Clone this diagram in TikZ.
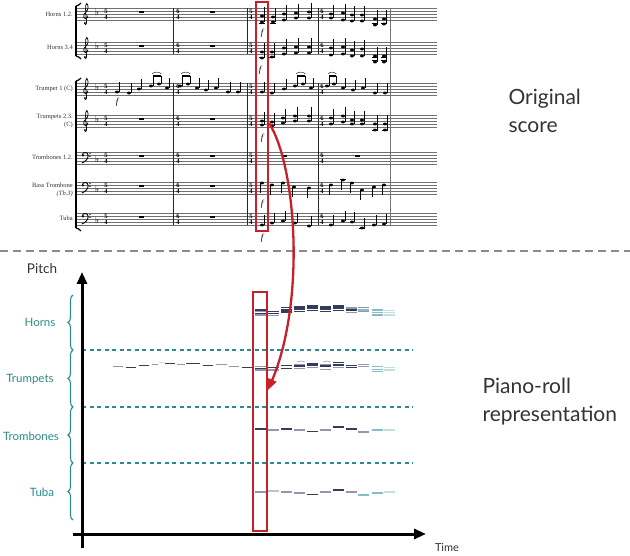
\documentclass[tikz,border=0pt]{standalone}
\usepackage{fontspec}
\setmainfont{Liberation Serif}
\newfontfamily\labfont{Lato}
\newfontfamily\musfont{DejaVu Sans}
\usetikzlibrary{decorations.pathreplacing,arrows.meta}
\definecolor{rred}{HTML}{C8202A}
\definecolor{tealc}{HTML}{2A8A8C}
\definecolor{nv}{HTML}{363B5A}
\definecolor{gr}{HTML}{9498AC}
\definecolor{lt}{HTML}{86BCC6}
\definecolor{vlt}{HTML}{C4DFE2}
\definecolor{stf}{HTML}{707070}
\definecolor{txt}{HTML}{333333}
\tikzset{
  staffline/.style={stf, line width=0.7},
  barl/.style={black!85, line width=0.8},
  stemc/.style={black, line width=0.6},
  clefc/.style={black, line width=0.75},
  pr/.style={line width=1.1},
  ts/.style={inner sep=0, font=\fontsize{6.5}{6.5}\selectfont\bfseries},
  slabel/.style={inner sep=0, anchor=east, align=right, text=black!80, font=\fontsize{6.5}{7.4}\selectfont},
  dyn/.style={inner sep=0, font=\fontsize{9}{9}\selectfont\itshape},
  redbox/.style={draw=rred, line width=2},
  grp/.style={text=tealc, font=\labfont\fontsize{11.5}{12}\selectfont},
  bracec/.style={draw=tealc, line width=1.1, decorate, decoration={brace, amplitude=5pt}},
  sepline/.style={draw=black!45, line width=2.2, dash pattern=on 8pt off 5pt},
  tdash/.style={draw=tealc, line width=1.2, dash pattern=on 4pt off 3.5pt},
  axis/.style={line width=3, -{Triangle[length=12pt,width=10pt]}},
  big/.style={text=txt, align=left, font=\labfont\fontsize{21}{28}\selectfont},
}
\newcommand\Hd[2]{\fill (#1,#2) ellipse [x radius=2, y radius=1.4];}
\newcommand\Up[2]{\Hd{#1}{#2}\draw[stemc] (#1+1.8,#2) -- (#1+1.8,#2-10);}
\newcommand\Dn[2]{\Hd{#1}{#2}\draw[stemc] (#1-1.8,#2) -- (#1-1.8,#2+10);}
\newcommand\ChU[3]{\Hd{#1}{#2}\Hd{#1}{#3}\draw[stemc] (#1+1.8,#2) -- (#1+1.8,#3-9);}
\newcommand\Bm[4]{\Hd{#1}{#2}\Hd{#3}{#4}\draw[stemc] (#1+1.8,#2) -- (#1+1.8,#2-10);\draw[stemc] (#3+1.8,#4) -- (#3+1.8,#2-10);\draw[line width=1.3] (#1+1.8,#2-10) -- (#3+1.8,#2-10);\draw[line width=0.4] (#1+1,#2-12) .. controls (#1+3,#2-14.5) and (#3,#2-14.5) .. (#3+2.5,#2-12);}
\newcommand\Rst[2]{\fill (#1,#2+3) rectangle (#1+5,#2+5);}
\newcommand\Staff[1]{\foreach \k in {0,...,4} \draw[staffline] (77,#1+3*\k) -- (437,#1+3*\k);}
\newcommand\Ch[3]{\foreach \yy in {#3} \draw[#2, pr] (#1,\yy) -- ++(11,0);}
\newcommand\Gclef[2]{%
  \draw[clefc] (#1+0.8,#2+8) .. controls (#1+2.6,#2+7) and (#1+2,#2+10.8) .. (#1,#2+10.8)
     .. controls (#1-2.8,#2+10.8) and (#1-3.2,#2+6) .. (#1,#2+4)
     .. controls (#1+2.6,#2+2) and (#1+2.6,#2-3) .. (#1+0.8,#2-4.5)
     .. controls (#1-1,#2-3) and (#1-0.6,#2+2) .. (#1+0.6,#2+14)
     .. controls (#1+0.9,#2+17) and (#1-2,#2+17.2) .. (#1-1.6,#2+15.2);
  \fill (#1-1.2,#2+15) circle [radius=1];}
\newcommand\Fclef[2]{%
  \fill (#1-2,#2+3.4) circle [radius=1.2];
  \draw[line width=0.9] (#1-2.8,#2+3) .. controls (#1-2.4,#2-0.2) and (#1+3.2,#2-0.6) .. (#1+3.2,#2+3.6)
     .. controls (#1+3.2,#2+7.5) and (#1-0.5,#2+10) .. (#1-3.2,#2+11);
  \fill (#1+5,#2+1.6) circle [radius=0.7];
  \fill (#1+5,#2+4.4) circle [radius=0.7];}
\begin{document}
\begin{tikzpicture}[x=1pt, y=-1pt]
\useasboundingbox (0,0) rectangle (630,556);
% ---------------- score ----------------
\foreach \t in {8,42,83,115,152,182,213} {\Staff{\t}}
% system brackets
\draw[line width=1.6] (76,6) -- (76,56);
\draw[line width=1.2] (76,6) .. controls (78,5.5) and (80,4.5) .. (81,3);
\draw[line width=1.2] (76,56) .. controls (78,56.5) and (80,57.5) .. (81,59);
\draw[line width=1.6] (76,81) -- (76,228);
\draw[line width=1.2] (76,81) .. controls (78,80.5) and (80,79.5) .. (81,78);
\draw[line width=1.2] (76,228) .. controls (78,228.5) and (80,229.5) .. (81,231);
% barlines
\foreach \bx in {173,247,318} {\draw[barl] (\bx,8) -- (\bx,54); \draw[barl] (\bx,83) -- (\bx,225);}
\draw[barl, black!55] (390,8) -- (390,225);
% clefs and key signatures
\foreach \t in {8,42,83,115} {
  \Gclef{86}{\t}
  \node[inner sep=0] at (97,\t+4) {\musfont\fontsize{9}{9}\selectfont ♭};
}
\foreach \t in {152,182,213} {
  \Fclef{85}{\t}
  \node[inner sep=0] at (97,\t+7) {\musfont\fontsize{9}{9}\selectfont ♭};
}
% time signatures
\foreach \t in {8,42,83,115,152,182,213} {
  \node[ts] at (106,\t+3) {5}; \node[ts] at (106,\t+9) {4};
  \node[ts] at (178,\t+3) {6}; \node[ts] at (178,\t+9) {4};
  \node[ts] at (251,\t+3) {5}; \node[ts] at (251,\t+9) {4};
  \node[ts] at (322,\t+3) {6}; \node[ts] at (322,\t+9) {4};
}
% rests
\foreach \t in {8,42,115,152,182,213} {\Rst{139}{\t}\Rst{210}{\t}}
\Rst{282}{152}\Rst{355}{152}
% labels
\node[slabel] (l1) at (73,14) {Horns 1.2.};
\node[slabel] (l2) at (73,47) {Horns 3.4};
\node[slabel] (l3) at (73,89) {Trumpet 1 (C)};
\node[slabel] (l4) at (73,121) {Trumpets 2.3.\\(C)};
\node[slabel] (l5) at (73,157) {Trombones 1.2.};
\node[slabel] (l6) at (73,190) {Bass Trombone\\\textit{(Tb.3)}};
\node[slabel] (l7) at (73,218) {Tuba};
% horns 1.2
\ChU{262}{22}{16}\ChU{273}{22}{17}\ChU{284}{20}{14}\ChU{296}{18}{13}\ChU{309}{18}{12}
\ChU{331}{18}{14}\ChU{343}{20}{13}\ChU{352}{21}{15}\ChU{362}{21}{15}\ChU{375}{25}{19}\ChU{384}{24}{19}
\foreach \lx in {262,273,375,384} {\draw[line width=0.4] (\lx-3,23) -- (\lx+3,23);}
% horns 3.4
\ChU{262}{58}{52}\ChU{272}{57}{52}\ChU{284}{54}{48}\ChU{296}{53}{47}\ChU{309}{53}{47}
\ChU{331}{55}{48}\ChU{343}{54}{47}\ChU{352}{56}{50}\ChU{362}{56}{49}\ChU{375}{62}{56}\ChU{384}{62}{56}
\foreach \lx in {262,272,375,384} {\draw[line width=0.4] (\lx-3,57) -- (\lx+3,57);}
\foreach \lx in {375,384} {\draw[line width=0.4] (\lx-3,60) -- (\lx+3,60);}
% trumpet 1
\Up{117}{92}\Up{129}{93}\Up{139}{89}\Bm{151}{86}{159}{84}\Up{167}{88}
\Bm{180}{86}{188}{84}\Up{197}{88}\Up{206}{90}\Up{216}{88}\Up{228}{92}\Up{238}{92}
\Up{262}{92}\Up{272}{93}\Up{284}{89}\Bm{295}{86}{303}{84}\Up{311}{88}
\Bm{327}{86}{334}{84}\Up{343}{88}\Up{353}{90}\Up{363}{88}\Up{375}{93}\Up{385}{93}
% trumpets 2.3
\ChU{262}{125}{121}\ChU{272}{126}{122}\ChU{283}{123}{118}\ChU{295}{121}{116}\ChU{309}{121}{116}
\ChU{331}{124}{118}\ChU{343}{122}{116}\ChU{352}{124}{120}\ChU{362}{124}{120}\ChU{375}{130}{124}\ChU{385}{130}{124}
\foreach \lx in {375,385} {\draw[line width=0.4] (\lx-3,130) -- (\lx+3,130);}
% bass trombone
\Dn{262}{183}\Dn{272}{185}\Dn{283}{183}\Dn{294}{187}\Dn{309}{188}
\Dn{331}{185}\Dn{343}{180}\Dn{352}{183}\Dn{362}{190}\Dn{374}{187}\Dn{384}{185}
\foreach \lx in {343} {\draw[line width=0.4] (\lx-3,179) -- (\lx+3,179);}
% tuba
\Up{262}{225}\Up{272}{223}\Up{283}{221}\Up{295}{223}\Up{309}{226}
\Up{331}{225}\Up{343}{221}\Up{352}{222}\Up{362}{228}\Up{374}{225}\Up{384}{224}
\foreach \lx in {362} {\draw[line width=0.4] (\lx-3,228) -- (\lx+3,228);}
% dynamics
\node[dyn] (d1) at (262,33) {f};
\node[dyn] (d2) at (260,70) {f};
\node[dyn] (d3) at (117,102) {f};
\node[dyn] (d4) at (262,138) {f};
\node[dyn] (d5) at (262,204) {f};
\node[dyn] (d6) at (262,238) {f};
% top red box
\draw[redbox] (256,2) rectangle (268,231);
% right titles
\node[big, anchor=north west] (orig) at (505,86) {Original\\score};
\node[big, anchor=north west] (piano) at (479,375) {Piano-roll\\representation};
% separator
\draw[sepline] (0,251) -- (630,251);
% ---------------- piano roll ----------------
\node[text=txt, font=\labfont\fontsize{13.5}{14}\selectfont] (pitch) at (42,269) {Pitch};
\node[text=txt, font=\labfont\fontsize{11}{12}\selectfont] (time) at (447,548) {Time};
\foreach \yy in {350,407,463} {\draw[tdash] (82,\yy) -- (413,\yy);}
\draw[bracec] (73,350) -- (73,295);
\draw[bracec] (73,407) -- (73,350);
\draw[bracec] (73,463) -- (73,407);
\draw[bracec] (73,520) -- (73,463);
\node[grp] (gh) at (40,322) {Horns};
\node[grp] (gtp) at (30,379) {Trumpets};
\node[grp] (gtb) at (31,436) {Trombones};
\node[grp] (gtu) at (42,492) {Tuba};
% melody before
\draw[gr,pr] (113,366.7) -- (123,366.7);
\draw[nv,pr] (126,367.3) -- (136,367.3);
\draw[nv,pr] (139,365.3) -- (149,365.3);
\draw[gr,pr] (152,364.3) -- (158,364.3);
\draw[vlt,pr] (159,362.7) -- (164,362.7);
\draw[nv,pr] (165,363.7) -- (175,363.7);
\draw[gr,pr] (177,364.3) -- (185,364.3);
\draw[nv,pr] (186,363.3) -- (200,363.3);
\draw[nv,pr] (203,365.3) -- (213,365.3);
\draw[gr,pr] (216,364.3) -- (227,364.3);
\draw[gr,pr] (229,366.3) -- (239,366.3);
\draw[nv,pr] (242,367.3) -- (252,367.3);
% horns
\Ch{255}{nv}{310,313.3}\Ch{255}{gr}{311.7,315}
\Ch{268}{nv}{311.5,313.5}\Ch{268}{gr}{315.5}
\Ch{281}{nv}{307.5,310,312}
\Ch{294}{nv}{307,309,311.5}
\Ch{307}{nv}{306,308,310.5}
\Ch{320}{nv}{307,309,311.5}
\Ch{333}{nv}{306,308,310.5}
\Ch{346}{gr}{308,312.5}\Ch{346}{nv}{310}
\Ch{358}{gr}{307.5,311.5}\Ch{358}{lt}{310}
\Ch{372}{lt}{310,312.3,315}
\Ch{384}{vlt}{310.7,312.7,315}
% trumpets
\Ch{255}{gr}{366.7,370}\Ch{255}{nv}{368.3}
\Ch{268}{nv}{367.3}\Ch{268}{gr}{370}
\Ch{281}{nv}{365.7,368.3}
\Ch{294}{gr}{364.3,368.3}\Ch{294}{nv}{366}
\Ch{307}{nv}{363.3,365}\Ch{307}{gr}{367.3}
\Ch{320}{gr}{364.3,369.3}\Ch{320}{nv}{366}
\Ch{333}{nv}{362.7,365}\Ch{333}{gr}{367.3}
\Ch{346}{nv}{365.7,367.7}
\Ch{358}{gr}{364.3,366.7}
\Ch{372}{lt}{366.7,369.3,371.7}
\Ch{384}{vlt}{367.3,370}
\draw[gr,line width=0.6] (297,362) -- (301,361) -- (305,362);
\draw[gr,line width=0.6] (323,362) -- (327,361) -- (331,362);
% trombones
\Ch{255}{nv}{429}\Ch{268}{gr}{430}\Ch{281}{nv}{429}\Ch{294}{gr}{430}\Ch{307}{nv}{431.5}
\Ch{320}{gr}{430}\Ch{333}{nv}{427}\Ch{346}{nv}{429}\Ch{358}{gr}{432}\Ch{372}{lt}{430}\Ch{384}{vlt}{430}
% tuba
\Ch{255}{gr}{492}\Ch{268}{gr!60}{491}\Ch{281}{gr}{492}\Ch{294}{gr}{493}\Ch{307}{nv}{494.5}
\Ch{320}{gr}{492}\Ch{333}{nv}{490}\Ch{346}{gr}{492}\Ch{358}{lt}{495}\Ch{372}{lt}{493}\Ch{384}{vlt}{492}
% bottom red box
\draw[redbox] (253,292) rectangle (267,531);
% axes
\coordinate (o1) at (82,548);
\coordinate (ytop) at (82,272);
\coordinate (o2) at (73,534);
\coordinate (xend) at (426,534);
\draw[axis] (o1) -- (ytop);
\draw[axis] (o2) -- (xend);
% red arrow
\coordinate (aS) at (269,123);
\coordinate (aE) at (268,390);
\draw[rred, line width=2.3, -{Triangle[length=11pt,width=9pt]}] (aS) .. controls (296,165) and (306,300) .. (aE);
\end{tikzpicture}
\end{document}
